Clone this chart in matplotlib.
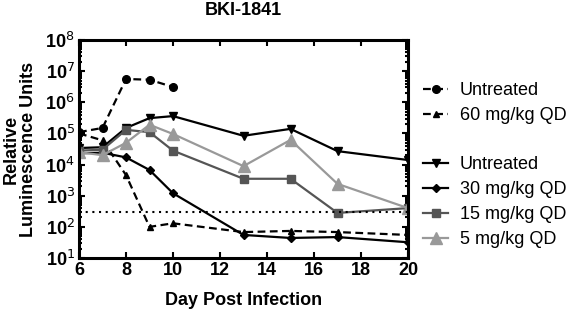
import numpy as np
import matplotlib
matplotlib.use("Agg")
import matplotlib.pyplot as plt
from matplotlib.lines import Line2D
from matplotlib.ticker import LogLocator, NullFormatter

plt.rcParams['font.family'] = ['Liberation Sans', 'DejaVu Sans']

# days post infection
days_a = [6, 7, 8, 9, 10]
days_b = [6, 7, 8, 9, 10, 13, 15, 17, 20]

# dashed group
untreated_a = [1.1e5, 1.5e5, 5.6e6, 5.3e6, 3.1e6]
dose60 = [1.0e5, 6.0e4, 4.6e3, 1.0e2, 1.3e2, 68, 74, 68, 55]

# solid group
untreated_b = [3.4e4, 3.6e4, 1.5e5, 3.1e5, 3.6e5, 8.4e4, 1.4e5, 2.7e4, 1.4e4]
dose30 = [2.3e4, 2.4e4, 1.7e4, 6.7e3, 1.2e3, 55, 44, 47, 32]
dose15 = [2.8e4, 3.0e4, 1.3e5, 1.1e5, 2.8e4, 3.5e3, 3.5e3, 280, 400]
dose5 = [2.5e4, 2.0e4, 5.0e4, 1.9e5, 9.6e4, 8.9e3, 6.2e4, 2.4e3, 400]

limit = 300

fig = plt.figure(figsize=(5.66, 3.12), dpi=100)
ax = fig.add_axes([79/566, 1-258/312, 329/566, 218/312])

dash = (0, (3.5, 2))
lw = 1.6
ax.plot(days_a, untreated_a, color='black', ls=dash, lw=lw, marker='o', ms=5.5)
ax.plot(days_b, dose60, color='black', ls=dash, lw=lw, marker='^', ms=4.5)

ax.plot(days_b, untreated_b, color='black', lw=lw, marker='v', ms=6)
ax.plot(days_b, dose30, color='black', lw=lw, marker='D', ms=4.5)
ax.plot(days_b, dose15, color='#555555', lw=lw, marker='s', ms=5.5)
ax.plot(days_b, dose5, color='#999999', lw=lw, marker='^', ms=8.5)

ax.axhline(limit, color='black', ls=(0, (1, 2.2)), lw=1.5)

ax.set_yscale('log')
ax.set_xlim(6, 20)
ax.set_ylim(10, 1e8)
ax.set_xticks(range(6, 21, 2))
ax.set_yticks([10.0**k for k in range(1, 9)])
ax.set_yticklabels(['10$^{%d}$' % k for k in range(1, 9)])
ax.yaxis.set_minor_locator(LogLocator(base=10, subs=np.arange(2, 10), numticks=20))
ax.yaxis.set_minor_formatter(NullFormatter())

for s in ax.spines.values():
    s.set_linewidth(2.2)
ax.tick_params(which='both', direction='in', top=True, right=True, width=1.5)
ax.tick_params(which='major', length=4)
ax.tick_params(which='minor', length=2.5)
ax.tick_params(axis='x', which='minor', top=False, bottom=False)
ax.tick_params(labelsize=13, pad=3)
for t in ax.get_xticklabels() + ax.get_yticklabels():
    t.set_fontweight('bold')

ax.set_xlabel('Day Post Infection', fontsize=13, fontweight='bold', labelpad=9)
ax.set_ylabel('Relative\nLuminescence Units', fontsize=13, fontweight='bold',
              labelpad=6, linespacing=1.05)
ax.set_title('BKI-1841', fontsize=13, fontweight='bold', pad=18)

h1 = [Line2D([], [], color='black', ls=dash, lw=lw, marker='o', ms=5.5),
      Line2D([], [], color='black', ls=dash, lw=lw, marker='^', ms=4.5)]
h2 = [Line2D([], [], color='black', lw=lw, marker='v', ms=6),
      Line2D([], [], color='black', lw=lw, marker='D', ms=4.5),
      Line2D([], [], color='#555555', lw=lw, marker='s', ms=5.5),
      Line2D([], [], color='#999999', lw=lw, marker='^', ms=8.5)]

kw = dict(loc='upper left', frameon=False, fontsize=13, handlelength=1.4,
          handletextpad=0.65, labelspacing=0.45, borderaxespad=0, borderpad=0)
fig.legend(h1, ['Untreated', '60 mg/kg QD'],
           bbox_to_anchor=(423/566, 1-82/312), **kw)
fig.legend(h2, ['Untreated', '30 mg/kg QD', '15 mg/kg QD', '5 mg/kg QD'],
           bbox_to_anchor=(423/566, 1-156/312), **kw)

fig.savefig('out.png', dpi=100)
